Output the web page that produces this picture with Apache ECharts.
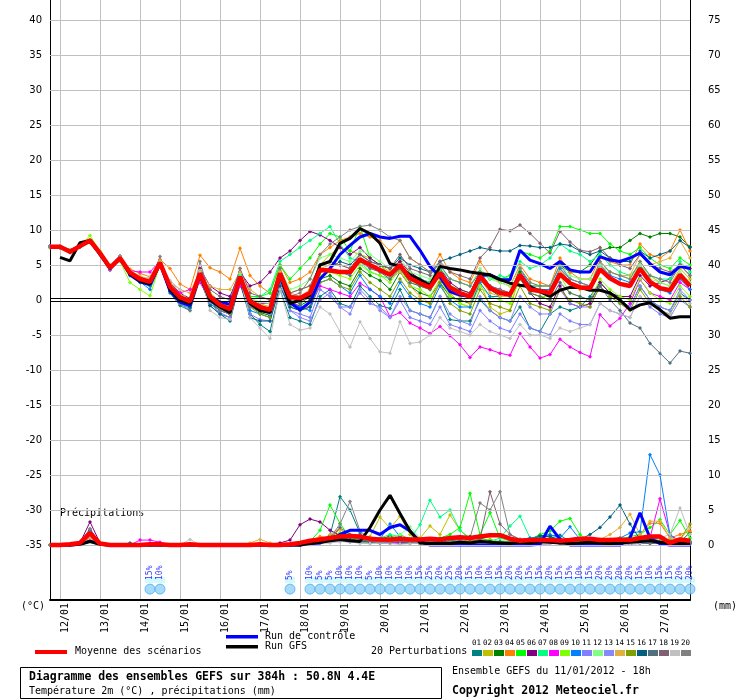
<!DOCTYPE html>
<html>
<head>
<meta charset="utf-8">
<script src="https://cdn.jsdelivr.net/npm/echarts@6/dist/echarts.min.js"></script>
<style>
  html, body { margin: 0; padding: 0; background: #fff; }
  #chart { width: 740px; height: 700px; }
</style>
</head>
<body>
<div id="chart"></div>
<script>
// pas de 6h, run du 11/01/2012 18h
var times = ['11/01 18h',
  '12/01 00h','12/01 06h','12/01 12h','12/01 18h', '13/01 00h','13/01 06h','13/01 12h','13/01 18h',
  '14/01 00h','14/01 06h','14/01 12h','14/01 18h', '15/01 00h','15/01 06h','15/01 12h','15/01 18h',
  '16/01 00h','16/01 06h','16/01 12h','16/01 18h', '17/01 00h','17/01 06h','17/01 12h','17/01 18h',
  '18/01 00h','18/01 06h','18/01 12h','18/01 18h', '19/01 00h','19/01 06h','19/01 12h','19/01 18h',
  '20/01 00h','20/01 06h','20/01 12h','20/01 18h', '21/01 00h','21/01 06h','21/01 12h','21/01 18h',
  '22/01 00h','22/01 06h','22/01 12h','22/01 18h', '23/01 00h','23/01 06h','23/01 12h','23/01 18h',
  '24/01 00h','24/01 06h','24/01 12h','24/01 18h', '25/01 00h','25/01 06h','25/01 12h','25/01 18h',
  '26/01 00h','26/01 06h','26/01 12h','26/01 18h', '27/01 00h','27/01 06h','27/01 12h','27/01 18h'];

var tempTicks = [-35, -30, -25, -20, -15, -10, -5, 0, 5, 10, 15, 20, 25, 30, 35, 40];
var rainTicks = [0, 5, 10, 15, 20, 25, 30, 35, 40, 45, 50, 55, 60, 65, 70, 75];

// température 2m (°C)
var meanTemp = [7.6,7.6,6.9,7.7,8.5,6.7,4.6,6.0,3.9,3.0,2.6,5.3,1.9, 0.4,-0.2,3.8,0.5,-0.7,-1.3,3.3,-0.2,-1.0,-1.4,3.8,0.4,0.3,
  1.0,4.3,4.2,4.0,4.0,5.8,5.0,4.3,3.6,5.0,3.1,2.4,1.8, 3.9,1.8,1.0,0.5,3.4,1.7,1.0,0.8,3.6,1.5,1.3,1.0,3.7,
  2.4,1.8,1.7,4.4,3.1,2.3,2.0,4.5,2.6,1.7,1.4,3.6,2.0];
var ctrlTemp = [7.6,7.6,7.0,7.7,8.4,6.6,4.5,5.9,3.6,2.6,2.2,5.2,1.3, -0.3,-0.8,3.8,0.5,-0.3,-0.6,3.0,0.0,-1.0,-1.5,3.5,-0.4,-1.4,
  -0.3,3.0,4.5,6.5,7.8,9.0,9.5,9.0,8.8,9.1,9.1,7.1,4.8, 3.3,1.2,0.7,0.5,3.5,3.6,2.9,2.9,7.1,5.7,5.2,4.5,5.5,
  4.3,4.0,4.0,6.2,5.7,5.5,6.0,6.7,5.2,4.0,3.6,4.8,4.5];
var gfsTemp = [null,6.1,5.6,8.2,8.5,6.5,4.5,6.0,3.7,2.7,2.3,5.3,1.5, 0.0,-0.5,3.6,0.0,-1.0,-1.8,3.3,-0.5,-1.5,-1.8,3.6,-0.5,0.0,
  0.7,5.0,5.5,8.1,8.8,10.2,9.5,8.1,5.2,4.8,3.6,2.9,2.1, 4.8,4.5,4.3,4.0,3.8,3.6,2.9,2.4,2.1,1.9,1.2,0.5,1.4,
  1.8,1.8,1.4,1.4,1.0,0.0,-1.4,-0.7,-0.4,-1.4,-2.6,-2.4,-2.4];

var t01 = [7.7,7.6,7.0,7.8,8.4,6.5,4.3,5.8,3.5,2.5,2.0,5.0,1.0, -0.8,-1.5,3.0,-0.8,-2.0,-2.5,2.5,-2.0,-3.5,-4.5,1.5,-2.5,-3.0,
  -3.5,0.5,1.5,-0.5,-1.0,2.0,0.5,-0.8,-1.2,1.5,-1.5,-2.0,-2.5, 0.5,-2.8,-3.0,-3.0,0.0,-1.5,-2.5,-3.0,-1.0,-4.0,-4.5,-2.0,-1.0,
  -1.5,-1.0,0.5,2.5,1.0,0.0,-1.0,2.0,0.0,-1.0,-1.5,1.0,0.0];
var t02 = [7.6,7.7,7.0,7.6,8.3,6.6,4.8,6.2,4.0,3.2,2.8,5.5,2.2, 0.8,0.2,4.0,1.0,-0.2,-0.8,3.5,0.3,-0.5,-1.0,4.0,1.0,1.5,
  2.0,5.0,6.5,7.5,7.0,6.5,6.0,5.0,4.0,5.5,3.0,2.0,1.5, 4.5,1.0,-0.5,-1.0,2.5,-1.0,-2.0,-1.5,4.0,1.0,0.5,0.0,4.5,
  2.5,1.5,2.0,5.0,4.0,3.5,3.0,5.5,3.5,2.5,2.0,4.5,3.0];
var t03 = [7.5,7.6,6.8,7.6,8.5,6.8,4.7,6.1,3.8,2.8,2.3,5.2,1.5, 0.0,-0.8,3.5,-0.5,-1.5,-2.0,3.0,-0.8,-1.8,-2.2,3.5,-0.5,-0.8,
  0.0,3.0,3.5,2.5,2.0,4.5,3.5,2.8,1.5,4.0,2.0,1.0,0.5, 2.5,0.5,0.0,-0.5,3.0,1.5,0.5,0.5,4.0,2.0,2.0,2.0,5.0,
  4.0,4.0,5.0,7.0,7.5,7.5,8.5,9.5,9.0,9.5,9.5,9.0,7.6];
var t04 = [7.5,7.4,7.0,7.9,8.2,6.5,4.8,6.2,4.4,3.8,3.3,5.8,4.5, 2.3,1.5,6.4,4.6,4.0,3.0,7.4,3.5,2.0,1.0,5.0,2.5,3.0,
  4.0,6.5,7.5,8.5,9.0,9.5,9.0,8.5,7.0,8.5,6.0,5.0,4.0, 6.5,4.0,3.0,2.5,5.5,3.5,2.5,2.0,5.0,3.0,2.5,2.0,6.0,
  4.0,3.0,3.0,6.0,5.5,5.0,5.0,8.0,6.5,6.0,7.0,10.0,7.0];
var t05 = [7.6,7.7,7.1,7.7,8.6,6.6,4.4,6.1,3.6,2.7,2.2,5.3,1.2, -0.2,-1.0,4.0,0.0,-1.0,-1.8,2.8,0.5,0.5,1.0,5.0,3.0,4.5,
  6.0,8.0,9.5,9.0,7.0,10.5,6.0,5.0,3.5,4.5,2.5,2.0,1.5, 4.0,2.0,1.5,1.0,4.0,3.0,3.0,3.5,7.0,6.5,6.0,7.0,10.5,
  10.5,10.0,9.5,9.5,8.0,7.0,6.5,7.5,6.0,5.0,4.5,6.0,5.0];
var t06 = [7.7,7.6,6.9,7.7,8.4,6.8,4.9,6.3,4.1,3.2,2.9,5.6,2.5, 1.0,0.2,4.5,2.0,1.0,0.5,4.0,2.0,2.5,4.0,6.0,7.0,8.5,
  9.8,9.3,8.5,7.5,6.5,7.5,6.0,5.0,4.5,5.5,4.0,3.0,2.5, 4.5,2.5,1.5,1.0,4.0,2.0,1.5,1.0,3.5,1.0,-0.5,-1.0,2.0,
  -0.5,-1.0,-0.5,2.5,1.0,0.5,0.5,3.5,2.0,2.5,3.0,5.0,4.5];
var t07 = [7.6,7.7,7.1,7.6,8.5,6.6,4.6,6.0,3.9,3.2,2.9,5.4,1.8, 0.2,-0.5,3.8,0.8,-0.3,-1.0,3.5,0.0,0.5,1.5,5.5,6.5,7.5,
  8.5,9.5,10.5,8.0,6.0,5.5,4.0,3.5,3.0,5.0,3.5,3.0,2.5, 4.5,3.0,2.5,2.0,4.0,3.0,3.5,3.0,5.5,4.5,5.0,6.0,8.0,
  7.0,6.5,5.5,6.5,5.0,4.0,3.5,5.0,3.5,3.0,3.0,5.5,4.0];
var t08 = [7.6,7.5,6.9,7.6,8.4,6.5,4.3,5.8,4.2,4.0,4.0,5.6,2.0, 1.0,1.5,2.5,0.0,-1.5,-2.0,2.0,-0.5,-0.5,-0.5,2.5,0.0,-1.0,
  -1.0,2.0,1.5,1.0,0.5,2.4,1.5,0.5,-2.4,-1.8,-3.3,-4.0,-4.8, -3.8,-5.1,-6.4,-8.2,-6.7,-7.1,-7.6,-7.9,-4.8,-6.7,-8.3,-7.8,-5.6,
  -6.7,-7.5,-8.1,-2.1,-3.7,-2.6,-0.5,2.9,1.0,0.5,0.0,2.5,1.5];
var t09 = [7.5,7.7,7.2,7.8,9.2,7.0,5.0,5.5,2.5,1.5,0.6,5.0,1.5, 0.0,-0.6,3.6,0.3,-1.0,-1.5,3.0,-0.5,-1.2,-1.6,3.5,0.0,-0.5,
  0.5,3.5,4.0,3.5,3.0,5.0,4.0,3.5,2.5,4.5,2.0,1.5,0.5, 3.0,0.5,-0.5,-1.0,2.0,0.5,0.0,-0.5,3.0,1.0,0.5,0.5,3.5,
  1.0,0.5,0.0,3.0,1.5,0.5,0.0,3.0,1.0,0.0,-0.5,2.0,0.5];
var t10 = [7.6,7.6,6.8,7.6,8.4,6.6,4.5,5.7,3.5,2.6,1.5,5.0,1.2, -0.5,-1.2,3.2,-0.2,-1.5,-2.0,2.5,-1.5,-2.0,-2.5,2.5,-0.5,-1.0,
  -1.5,2.5,3.0,2.0,1.0,3.5,1.5,0.5,-0.5,2.5,0.5,-0.5,-1.0, 2.0,0.0,-1.0,-1.0,2.5,0.5,0.5,0.5,4.5,2.0,1.5,1.5,4.5,
  3.0,2.5,2.0,5.0,3.5,3.0,2.5,4.5,2.5,1.5,1.0,3.0,1.5];
var t11 = [7.7,7.5,6.9,7.7,8.4,6.6,4.4,5.9,3.7,2.9,2.4,5.2,1.6, 0.0,-0.6,3.4,-0.5,-1.8,-2.5,2.5,-2.0,-2.8,-3.0,2.0,-1.5,-2.0,
  -2.5,1.5,0.5,-1.0,-1.0,1.0,-0.5,-1.0,-2.5,0.0,-2.5,-3.0,-3.5, -1.0,-3.5,-4.0,-4.5,-1.5,-3.0,-4.0,-4.5,-2.0,-4.0,-4.5,-5.0,-2.0,
  -3.0,-3.5,-3.5,-0.5,-1.5,-2.0,-2.5,0.5,-1.0,-2.0,-2.5,0.0,-1.0];
var t12 = [7.6,7.7,7.0,7.7,8.5,6.8,4.8,6.2,4.1,3.3,2.9,5.5,2.2, 0.6,0.0,4.2,1.0,-0.3,-0.8,3.8,0.3,-0.3,-0.5,4.5,1.5,2.0,
  3.0,6.0,6.5,6.0,5.5,7.0,6.5,5.5,4.5,6.0,4.0,3.5,3.0, 5.0,3.0,2.5,2.0,4.5,3.0,2.5,2.0,4.5,2.5,2.0,2.0,5.0,
  3.5,3.0,3.0,5.0,4.0,3.5,3.0,5.0,3.0,2.5,2.0,4.0,2.5];
var t13 = [7.6,7.5,6.8,7.6,8.3,6.7,4.6,6.0,3.8,2.8,2.3,5.1,1.7, 0.2,-0.5,3.6,0.2,-1.0,-1.6,3.2,-0.8,-1.5,-2.0,3.0,-1.5,-2.5,
  -3.0,0.0,1.0,-1.0,-2.0,1.5,0.0,-1.5,-2.5,0.5,-1.5,-2.0,-2.5, 0.5,-2.0,-3.0,-3.5,0.5,-1.5,-2.5,-3.0,0.5,-1.0,-2.0,-2.0,1.5,
  -0.5,-1.0,-1.0,2.0,0.5,-0.5,-1.0,2.0,0.0,-1.0,-1.5,1.5,0.0];
var t14 = [7.5,7.5,7.0,8.0,8.2,6.6,4.8,6.0,4.2,3.4,3.0,5.6,2.5, 1.5,1.0,4.2,2.0,1.5,1.5,4.0,1.5,0.5,0.0,4.0,1.0,0.5,
  1.5,4.5,5.0,5.0,4.5,6.0,5.0,4.0,3.0,4.0,2.0,0.5,-0.5, 3.0,1.0,0.5,-0.5,3.0,1.0,0.5,0.5,3.5,1.5,1.0,1.0,4.0,
  2.5,2.0,2.0,5.5,4.0,3.5,3.5,6.5,5.0,5.5,6.0,8.5,6.0];
var t15 = [7.6,7.6,6.9,7.7,8.5,6.7,4.5,5.9,3.8,2.8,2.5,5.2,1.6, 0.1,-0.6,3.4,0.0,-1.2,-2.0,2.8,-1.0,-2.0,-2.5,3.0,-1.0,-1.5,
  -1.0,2.5,3.0,2.0,1.5,4.0,2.5,1.5,0.5,3.0,1.0,0.0,-0.5, 2.5,-0.5,-1.5,-2.0,1.5,-0.5,-1.0,-1.5,2.0,-0.5,-1.0,-1.5,1.5,
  0.0,-0.5,-1.0,2.0,0.5,-0.5,-1.5,1.5,-0.5,-1.5,-2.0,0.5,-1.0];
var t16 = [7.6,7.6,6.9,7.7,8.4,6.6,4.5,5.9,3.7,2.8,2.3,5.1,1.5, -0.3,-1.0,3.2,-0.8,-2.0,-3.0,2.5,-2.5,-3.0,-3.0,2.0,-1.0,-1.5,
  -1.0,3.0,4.5,5.5,5.0,6.5,5.5,5.0,4.5,6.0,5.0,4.5,4.0, 5.5,6.0,6.5,7.0,7.5,7.2,7.0,7.0,7.8,7.7,7.5,7.5,8.0,
  7.8,7.0,6.5,7.0,6.0,5.5,5.5,7.0,6.0,6.5,7.0,8.5,7.5];
var t17 = [7.6,7.6,6.9,7.7,8.5,6.7,4.6,6.0,3.9,3.0,2.5,5.3,1.8, 0.3,-0.3,3.7,0.4,-0.8,-1.5,3.2,-0.5,-1.2,-1.6,3.5,0.0,-0.5,
  0.5,4.0,4.5,4.0,3.5,5.5,4.5,4.0,3.0,4.5,2.5,2.0,1.5, 3.5,1.5,1.0,0.5,3.0,1.5,1.0,0.5,3.0,1.0,0.5,0.0,2.5,
  1.0,0.5,0.0,2.0,0.0,-1.5,-3.3,-4.0,-6.2,-7.6,-9.0,-7.3,-7.6];
var t18 = [7.6,7.6,6.9,7.7,8.5,6.7,4.6,6.1,3.9,3.0,2.7,5.3,1.9, 0.5,-0.1,4.0,1.5,0.5,0.0,4.5,1.0,0.5,0.0,4.5,1.0,1.5,
  2.0,5.0,5.5,5.0,4.5,6.5,5.5,5.0,4.5,6.5,4.5,4.0,3.5, 5.5,4.0,3.5,3.0,6.0,7.5,10.1,9.9,10.7,9.5,8.1,6.7,9.8,
  8.3,7.1,6.9,7.5,6.0,5.0,4.5,6.5,5.0,4.5,4.0,5.0,3.5];
var t19 = [7.6,7.6,6.9,7.7,8.5,6.7,4.6,6.0,3.9,3.0,3.2,5.3,2.8, 1.5,-0.5,4.0,-1.5,-2.5,-2.8,3.2,-2.5,-4.0,-5.5,1.5,-3.5,-4.3,
  -4.0,-1.0,-2.0,-4.5,-6.7,-3.1,-5.5,-7.4,-7.6,-3.1,-6.2,-6.0,-5.0, -2.5,-4.0,-4.5,-5.0,-3.5,-4.5,-5.0,-5.5,-3.5,-5.0,-5.0,-5.5,-4.0,
  -4.5,-4.0,-3.5,-0.5,-1.5,-2.0,-2.5,0.5,-0.5,-1.5,-2.0,1.0,-0.5];
var t20 = [7.6,7.6,6.9,7.7,8.5,6.7,4.7,6.1,4.0,3.1,2.6,6.2,1.5, -0.5,-1.5,5.5,0.5,-1.5,-2.0,4.5,-1.0,-1.5,-1.5,4.5,0.5,1.0,
  3.0,6.5,8.0,9.0,10.0,10.5,10.7,10.0,9.0,8.5,6.0,5.0,4.0, 5.0,3.0,2.5,2.0,4.0,2.0,1.5,1.0,4.5,2.5,2.0,2.0,5.0,
  3.0,2.5,2.0,5.5,4.0,3.5,3.0,5.5,3.5,3.0,2.5,5.0,3.5];

// précipitations (mm)
var meanRain = [0,0,0.1,0.3,1.7,0.2,0,0,0,0,0.1,0.1,0, 0,0.1,0,0,0,0,0,0,0.1,0,0,0.1,0.3,
  0.6,0.8,1.0,1.2,1.3,1.2,0.9,0.8,0.8,0.9,0.8,0.8,0.9, 0.8,1.0,1.1,1.0,1.2,1.4,1.4,0.9,0.6,0.7,0.7,0.7,0.6,
  0.7,0.9,0.9,0.7,0.7,0.8,0.7,1.0,1.2,1.2,0.3,0.8,0.6];
var ctrlRain = [0,0,0,0.1,0.6,0.1,0,0,0,0,0,0,0, 0,0,0,0,0,0,0,0,0,0,0,0,0,
  0.2,0.3,0.8,1.5,2.1,2.1,2.1,1.5,2.5,2.9,2.0,0.5,0, 0,0,0,0,0,0,0,0,0,0,0.1,2.7,0.8,
  0,0,0,0,0,0,1.0,4.6,1.0,0.2,0,0,0];
var gfsRain = [null,0,0,0.1,0.5,0.1,0,0,0,0,0,0,0, 0,0,0,0,0,0,0,0,0,0,0,0,0,
  0.2,0.4,0.6,0.8,0.6,0.5,2.5,5.0,7.1,4.5,2.0,0.3,0.2, 0.3,0.2,0.4,0.3,0.5,0.4,0.3,0.2,0.4,0.3,0.5,0.4,0.3,
  0.2,0.3,0.4,0.3,0.2,0.3,0.4,0.5,0.6,0.4,0.3,0.2,0.3];

var r01 = [0,0,0,0.2,1.5,0.2,0,0,0.3,0,0,0,0, 0,0,0,0,0,0,0,0,0,0,0,0,0,
  0.1,0.3,1.4,6.9,5.0,1.7,0.5,0.3,0.2,0.8,0.4,0.2,0.5, 0.3,0.6,0.4,0.2,0.5,0.8,0.3,0.4,0.3,0.2,1.0,1.3,1.4,
  0.5,0.3,0.2,0.2,0.4,0.3,0.2,0.6,0.8,0.5,0.3,0.2,0.3];
var r02 = [0,0,0,0.2,1.8,0.2,0,0,0,0,0,0,0, 0,0,0,0,0,0,0,0,0,0,0,0,0.2,
  0.3,0.5,0.8,1.0,1.5,0.8,1.2,4.0,2.4,4.1,1.5,1.0,2.7, 1.5,4.3,2.1,0.8,0.5,0.3,0.2,0.5,0.3,0.2,0.4,0.3,0.2,
  0.3,0.5,0.6,0.8,0.6,0.5,0.4,0.6,0.8,0.5,0.4,0.6,0.5];
var r03 = [0,0,0,0.2,1.2,0.2,0,0,0,0,0,0,0, 0,0,0,0,0,0,0,0,0,0,0,0,0,
  0.2,0.4,0.6,0.8,0.5,0.4,0.3,0.8,1.3,1.0,0.4,0.2,0.2, 0.3,0.5,1.0,1.2,1.0,0.6,0.4,0.3,0.5,0.8,1.4,1.2,0.6,
  0.4,0.3,0.2,0.5,0.4,0.3,0.4,0.8,1.0,0.6,0.5,0.4,1.8];
var r04 = [0,0,0,0.2,1.0,0.2,0,0,0,0,0,0,0, 0,0,0,0,0,0,0,0,0,0,0,0,0,
  0.5,1.2,1.0,2.3,1.0,0.6,0.4,0.3,0.5,0.4,0.3,0.2,0.5, 0.3,0.5,0.4,0.6,0.8,0.5,0.3,0.4,0.5,0.3,0.2,0.3,0.4,
  0.6,0.5,0.3,0.4,0.5,0.6,0.8,1.5,3.1,3.1,1.0,1.5,2.0];
var r05 = [0,0,0,0.2,1.6,0.2,0,0,0,0,0,0,0, 0,0,0,0,0,0,0,0,0,0,0,0,0.1,
  0.5,2.1,5.7,3.1,1.0,0.8,0.6,0.5,1.0,1.5,0.8,0.6,0.8, 1.0,1.5,2.5,7.4,1.5,4.6,1.0,0.6,0.5,0.8,1.5,2.0,3.4,
  3.8,1.5,0.5,0.6,0.5,0.8,1.2,1.5,2.5,3.6,1.5,3.5,1.0];
var r06 = [0,0,0,0.3,3.3,0.3,0,0,0,0,0,0,0, 0,0,0,0,0,0,0,0.1,0.2,0.1,0.3,0.7,2.9,
  3.7,3.3,2.1,1.4,0.8,0.5,0.4,0.3,0.5,0.3,0.2,0.4,0.3, 0.2,0.3,0.5,0.4,0.3,0.2,0.3,0.2,0.4,0.3,0.2,0.3,0.2,
  0.3,0.2,0.2,0.4,0.3,0.5,0.4,0.3,0.2,0.3,0.2,0.4,0.3];
var r07 = [0,0,0,0.2,1.4,0.2,0,0,0,0,0,0,0, 0,0,0,0,0,0,0,0,0,0,0,0,0,
  0.3,0.8,1.2,1.5,1.0,0.6,0.8,1.0,1.5,1.2,0.8,2.9,6.4, 4.0,5.0,2.1,1.0,0.8,0.5,1.0,2.7,4.1,1.0,0.6,0.5,0.8,
  0.5,0.4,0.6,0.5,0.4,0.6,0.8,0.5,0.4,0.6,0.8,0.5,0.4];
var r08 = [0,0,0,0.2,2.0,0.2,0,0,0,0.7,0.7,0.4,0, 0,0,0,0,0,0,0,0,0,0,0,0,0,
  0.3,0.5,0.8,1.0,1.2,1.4,0.8,0.5,0.3,0.2,0.4,0.3,0.2, 0.3,0.2,0.1,0.2,0.1,0.2,0.3,0.2,0.1,0.2,0.1,0.2,0.3,
  0.2,0.1,0.2,0.1,0.2,0.3,0.5,0.6,1.0,6.6,1.5,0.5,0.3];
var r09 = [0,0,0,0.2,1.3,0.2,0,0,0,0,0,0,0, 0,0,0,0,0,0,0,0,0,0,0,0,0,
  0.2,0.5,1.0,1.8,1.0,0.5,0.3,0.5,0.8,0.6,0.4,0.3,0.5, 0.8,0.5,0.3,0.4,0.6,0.8,0.5,0.3,0.2,0.4,0.3,0.2,0.3,
  0.4,0.3,0.5,0.4,0.3,0.5,0.8,0.6,0.4,0.5,0.6,0.8,0.5];
var r10 = [0,0,0,0.2,1.7,0.2,0,0,0,0,0,0,0, 0,0,0,0,0,0,0,0,0,0,0,0,0,
  0.1,0.3,0.5,0.8,1.0,0.8,0.5,0.8,3.0,1.2,0.5,0.3,0.4, 0.3,0.5,0.3,0.2,0.4,0.3,0.2,0.5,0.8,1.0,1.2,1.5,1.0,
  2.6,0.8,0.8,0.6,0.8,1.0,1.7,1.9,12.9,10.0,1.4,0.5,0.3];
var r11 = [0,0,0,0.2,1.9,0.2,0,0,0,0,0,0,0, 0,0,0,0,0,0,0,0,0,0,0,0,0,
  0.1,0.2,0.4,0.5,0.8,0.6,0.4,0.3,0.5,0.4,0.3,0.2,0.3, 0.2,0.3,0.2,0.1,0.2,0.3,0.2,0.1,0.2,0.1,0.2,0.3,0.2,
  0.1,0.2,0.1,0.2,0.3,0.2,0.1,0.2,0.3,0.2,0.1,0.2,0.1];
var r12 = [0,0,0,0.2,1.5,0.2,0,0,0,0,0,0,0, 0,0,0,0,0,0,0,0,0,0,0,0,0,
  0.2,0.4,0.8,1.5,1.2,0.8,0.5,0.8,1.0,1.5,2.6,1.0,0.8, 0.5,0.8,1.2,1.0,0.6,0.4,0.6,0.8,0.5,0.4,0.3,0.5,0.4,
  0.3,0.5,0.4,0.3,0.5,0.8,0.6,0.4,0.5,0.6,0.4,0.3,0.5];
var r13 = [0,0,0,0.2,1.6,0.2,0,0,0,0,0,0,0, 0,0,0,0,0,0,0,0,0,0,0,0,0,
  0.1,0.3,0.5,0.6,0.4,0.3,0.2,0.4,0.6,0.5,0.3,0.2,0.2, 0.3,0.4,0.3,0.2,0.3,0.2,0.1,0.2,0.3,0.2,0.1,0.2,0.3,
  0.2,0.1,0.2,0.3,0.2,0.1,0.2,0.3,0.4,0.3,0.2,0.1,0.2];
var r14 = [0,0,0,0.2,1.1,0.2,0,0,0,0,0,0,0, 0,0,0,0,0,0,0,0.3,0.8,0.3,0,0,0,
  0.2,0.6,1.5,2.4,1.0,0.6,0.5,0.4,0.8,0.5,0.3,0.4,0.5, 0.6,0.4,0.3,0.5,0.4,0.3,0.2,0.4,0.3,0.5,0.4,0.3,0.5,
  0.4,0.5,0.6,0.8,1.5,2.5,4.4,1.5,3.4,3.4,1.0,0.8,2.5];
var r15 = [0,0,0,0.2,1.8,0.2,0,0,0,0,0,0,0, 0,0,0,0,0,0,0,0,0,0,0,0,0,
  0.3,0.5,1.0,1.2,0.8,0.6,0.5,0.8,0.6,0.5,0.4,0.6,0.8, 0.5,1.0,0.8,0.5,0.4,0.5,0.3,0.5,0.8,0.6,0.4,0.5,0.6,
  0.5,0.4,0.3,0.6,0.8,1.0,0.8,0.6,0.8,1.0,0.6,0.8,3.0];
var r16 = [0,0,0,0.2,2.1,0.2,0,0,0,0,0,0,0, 0,0,0,0,0,0,0,0,0,0,0,0,0,
  0.2,0.5,0.8,1.0,0.8,0.6,0.4,0.5,0.6,0.4,0.3,0.4,0.5, 0.4,0.5,0.3,0.4,0.6,0.5,0.4,0.3,0.5,0.6,1.3,1.2,0.8,
  0.5,0.8,1.5,2.5,4.0,5.7,3.0,0.8,0.5,0.4,0.3,0.4,0.5];
var r17 = [0,0,0,0.2,2.0,0.2,0,0,0,0,0,0,0, 0,0,0,0,0,0,0,0,0,0,0,0,0,
  0.2,0.4,0.8,2.5,1.5,0.8,0.5,0.4,0.6,0.5,0.4,0.3,0.4, 0.5,0.4,0.3,0.5,0.4,0.3,0.5,0.4,0.3,0.5,0.4,0.3,0.2,
  0.3,0.2,0.3,0.4,0.3,0.5,0.4,0.3,0.2,0.3,0.2,0.3,0.2];
var r18 = [0,0,0,0.3,2.3,0.2,0,0,0,0,0,0,0, 0,0,0,0,0,0,0,0,0,0,0,0,0,
  0.3,0.5,1.0,1.5,1.2,0.8,0.5,0.4,0.6,0.5,0.4,0.5,0.6, 0.8,1.0,0.6,0.5,0.8,7.6,3.0,1.5,0.8,0.5,0.4,0.3,0.5,
  0.4,0.3,0.5,0.4,0.3,0.5,0.4,0.3,0.5,0.4,0.3,0.5,0.4];
var r19 = [0,0,0,0.2,1.2,0.2,0,0,0,0,0,0,0, 0,0.8,0,0,0,0,0,0,0,0,0,0,0,
  0.1,0.2,0.3,0.5,0.4,0.3,0.2,0.3,0.2,0.1,0.2,0.3,0.2, 0.3,0.2,0.1,0.2,0.3,0.2,0.1,0.2,0.3,0.2,0.1,0.2,0.3,
  0.2,0.1,0.2,0.3,0.2,0.1,0.2,0.3,0.5,1.0,1.5,5.3,1.5];
var r20 = [0,0,0,0.3,2.3,0.2,0,0,0,0,0,0,0, 0,0,0,0,0,0,0,0,0,0,0,0,0,
  0.2,0.5,1.0,3.0,6.2,2.0,0.8,0.5,0.4,0.6,0.5,0.4,0.5, 0.6,0.5,0.8,1.0,6.0,5.0,7.6,1.5,0.8,0.5,0.4,0.5,0.6,
  0.5,0.4,0.6,0.5,0.4,0.6,0.8,0.5,0.4,0.6,0.5,0.4,0.5];

// probabilité de neige (%)
var snowPct = [null,null,null,null,null,null,null,null,null,null,15,10,null,
  null,null,null,null,null,null,null,null,null,null,null,5,null,
  10,5,5,10,10,10,5,10,10,10,10,15,25, 20,25,20,15,10,10,15,20,20,15,15,20,15,
  15,10,15,20,20,20,20,15,10,15,15,20,20];

var memberIds = ['01','02','03','04','05','06','07','08','09','10','11','12','13','14','15','16','17','18','19','20'];
var pertColors = ['#008080','#c0c000','#008000','#ff8000','#00ff00','#800080','#00ff80','#ff00ff','#80ff00','#0080ff',
  '#8080ff','#80ff80','#8888f8','#e0b040','#80a000','#006080','#507080','#806070','#c0c0c0','#808080'];
var pertTemp = [t01,t02,t03,t04,t05,t06,t07,t08,t09,t10,t11,t12,t13,t14,t15,t16,t17,t18,t19,t20];
var pertRain = [r01,r02,r03,r04,r05,r06,r07,r08,r09,r10,r11,r12,r13,r14,r15,r16,r17,r18,r19,r20];

var MONO = '"DejaVu Sans Mono", monospace';
var half = 300 / 7;     // demi-hauteur du graphe en °C (7 px par degré)
var rainShift = 35;     // 0 mm aligné sur -35 °C

var chart = echarts.init(document.getElementById('chart'));

function thinLine(data, color, axis) {
    return {
        type: 'line', data: data, yAxisIndex: axis, z: 3,
        symbol: 'diamond', symbolSize: 4, showSymbol: true,
        lineStyle: { color: color, width: 1 },
        itemStyle: { color: color },
        emphasis: { disabled: true }, silent: true
    };
}
function boldLine(data, color, width, axis, z) {
    return {
        type: 'line', data: data, yAxisIndex: axis, z: z,
        symbol: 'none', lineStyle: { color: color, width: width },
        itemStyle: { color: color }, emphasis: { disabled: true }, silent: true
    };
}
function isDay(idx, value) { return value.indexOf('00h') > 0; }

var series = [];
// grille horizontale + double trait du zéro
series.push({
    type: 'line', data: [], z: 1, silent: true,
    markLine: {
        silent: true, symbol: 'none', label: { show: false }, animation: false,
        data: tempTicks.filter(function(v) { return v !== 0; }).map(function(v) {
            return { yAxis: v, lineStyle: { color: '#c0c0c0', width: 1, type: 'solid' } };
        }).concat([
            { yAxis: 0.19, lineStyle: { color: '#000', width: 1, type: 'solid' } },
            { yAxis: -0.19, lineStyle: { color: '#000', width: 1, type: 'solid' } }
        ])
    }
});
pertTemp.forEach(function(d, k) { series.push(thinLine(d, pertColors[k], 0)); });
pertRain.forEach(function(d, k) { series.push(thinLine(d, pertColors[k], 1)); });
series.push(boldLine(ctrlTemp, '#0000ff', 3, 0, 4));
series.push(boldLine(ctrlRain, '#0000ff', 3, 1, 4));
series.push(boldLine(gfsTemp, '#000000', 3, 0, 5));
series.push(boldLine(gfsRain, '#000000', 3, 1, 5));
series.push(boldLine(meanTemp, '#ff0000', 4.5, 0, 6));
series.push(boldLine(meanRain, '#ff0000', 4.5, 1, 6));

// ligne des risques de neige
var snowItems = [];
snowPct.forEach(function(p, i) { if (p !== null) snowItems.push([i, p]); });
series.push({
    type: 'scatter', z: 7, silent: true, symbol: 'rect', symbolSize: [10, 6],
    itemStyle: { color: '#c8f8ff' },
    data: snowItems.map(function(s) { return [s[0], -40]; })
});
series.push({
    type: 'scatter', z: 8, silent: true, symbol: 'circle', symbolSize: 10,
    itemStyle: { color: '#8fd2f6', borderColor: '#4fb0e8', borderWidth: 1 },
    data: snowItems.map(function(s) { return [s[0], -41.3]; })
});
series.push({
    type: 'scatter', z: 9, silent: true, symbolSize: 0,
    data: snowItems.map(function(s) { return [s[0], -40, s[1]]; }),
    label: {
        show: true, position: 'inside', rotate: 90, align: 'left', verticalAlign: 'middle',
        formatter: function(p) { return p.value[2] + '%'; },
        color: '#0000ff', fontFamily: MONO, fontSize: 8
    }
});

var graphics = [
    { type: 'text', left: 21, top: 601, style: { text: '(°C)', font: '10px ' + MONO, fill: '#000' } },
    { type: 'text', left: 713, top: 601, style: { text: '(mm)', font: '10px ' + MONO, fill: '#000' } },
    { type: 'text', left: 60, top: 508, style: { text: 'Précipitations', font: '10px ' + MONO, fill: '#000' } },
    { type: 'rect', shape: { x: 35, y: 650, width: 32, height: 4 }, style: { fill: '#ff0000' } },
    { type: 'text', left: 75, top: 646, style: { text: 'Moyenne des scénarios', font: '10px ' + MONO, fill: '#000' } },
    { type: 'rect', shape: { x: 226, y: 635, width: 32, height: 3.5 }, style: { fill: '#0000ff' } },
    { type: 'rect', shape: { x: 226, y: 645, width: 32, height: 3.5 }, style: { fill: '#000000' } },
    { type: 'text', left: 265, top: 631, style: { text: 'Run de contrôle', font: '10px ' + MONO, fill: '#000' } },
    { type: 'text', left: 265, top: 641, style: { text: 'Run GFS', font: '10px ' + MONO, fill: '#000' } },
    { type: 'text', left: 371, top: 646, style: { text: '20 Perturbations', font: '10px ' + MONO, fill: '#000' } },
    { type: 'rect', shape: { x: 20.5, y: 667.5, width: 421, height: 31 }, style: { fill: 'none', stroke: '#000', lineWidth: 1 } },
    { type: 'text', left: 29, top: 671, style: { text: 'Diagramme des ensembles GEFS sur 384h : 50.8N 4.4E', font: 'bold 11.5px ' + MONO, fill: '#000' } },
    { type: 'text', left: 29, top: 686, style: { text: 'Température 2m (°C) , précipitations (mm)', font: '10px ' + MONO, fill: '#000' } },
    { type: 'text', left: 452, top: 666, style: { text: 'Ensemble GEFS du 11/01/2012 - 18h', font: '10px ' + MONO, fill: '#000' } },
    { type: 'text', left: 452, top: 685, style: { text: 'Copyright 2012 Meteociel.fr', font: 'bold 11.5px ' + MONO, fill: '#000' } }
];
memberIds.forEach(function(id, k) {
    graphics.push({ type: 'text', left: 472 + 11 * k, top: 639, style: { text: id, font: '7.5px ' + MONO, fill: '#000' } });
    graphics.push({ type: 'rect', shape: { x: 472 + 11 * k, y: 650, width: 10, height: 6 }, style: { fill: pertColors[k] } });
});

var option = {
    animation: false,
    backgroundColor: '#ffffff',
    grid: { left: 50, right: 50, top: 0, bottom: 100 },
    xAxis: {
        type: 'category', data: times, boundaryGap: false,
        axisLine: { show: true, onZero: false, lineStyle: { color: '#000', width: 2 } },
        axisTick: { show: false },
        axisLabel: {
            interval: isDay, rotate: 90, margin: 3, verticalAlign: 'top',
            formatter: function(v) { return v.slice(0, 5); },
            color: '#000', fontFamily: MONO, fontSize: 10
        },
        splitLine: { show: true, interval: isDay, lineStyle: { color: '#c0c0c0', width: 1 } }
    },
    yAxis: [
        {
            type: 'value', position: 'left', min: -half, max: half,
            axisLine: { show: true, onZero: false, lineStyle: { color: '#000', width: 1 } },
            axisTick: { show: false }, splitLine: { show: false },
            axisLabel: { customValues: tempTicks, margin: 8, color: '#000', fontFamily: 'DejaVu Sans', fontSize: 10 }
        },
        {
            type: 'value', position: 'right', min: rainShift - half, max: rainShift + half,
            axisLine: { show: true, onZero: false, lineStyle: { color: '#000', width: 1 } },
            axisTick: { show: false }, splitLine: { show: false },
            axisLabel: { customValues: rainTicks, margin: 18, color: '#000', fontFamily: 'DejaVu Sans', fontSize: 10 }
        }
    ],
    graphic: graphics,
    series: series
};

chart.setOption(option);
</script>
</body>
</html>
